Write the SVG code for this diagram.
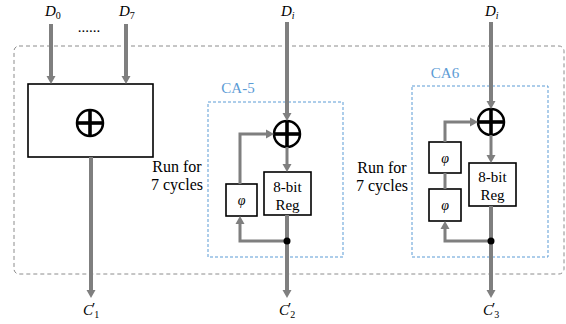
<svg xmlns="http://www.w3.org/2000/svg" width="566" height="324" viewBox="0 0 566 324">
<style>
text{font-family:"Liberation Serif",serif}
.t{fill:#000}
.it{font-style:italic}
.box{fill:#fff;stroke:#000;stroke-width:1.6}
.ca{fill:none;stroke:#5B9BD5;stroke-width:1;stroke-dasharray:3,2}
.lbl{fill:#5B9BD5;font-size:15px}
.c{fill:none;stroke:#7f7f7f;stroke-width:4}
.c3{fill:none;stroke:#7f7f7f;stroke-width:3}
.xc{fill:#fff;stroke:#000;stroke-width:2.5}
.xl{stroke:#000;stroke-width:3.6}
</style>
<defs>
<marker id="ah" markerUnits="userSpaceOnUse" markerWidth="9" markerHeight="10" refX="0" refY="4.5" orient="auto" overflow="visible">
<path d="M0,0 L8,4.5 L0,9 Z" fill="#7f7f7f"/>
</marker>
</defs>
<rect id="outer" x="14" y="46" width="550" height="228" rx="5" fill="none" stroke="#8c8c8c" stroke-width="1" stroke-dasharray="4,3"/>

<g id="bigxor">
<rect class="box" x="28" y="84" width="125" height="73"/>
<circle class="xc" cx="90" cy="123" r="13"/>
<line class="xl" x1="77" y1="123" x2="103" y2="123"/>
<line class="xl" x1="90" y1="110" x2="90" y2="136"/>
</g>

<g id="ca5">
<rect class="ca" x="208" y="102" width="135" height="155"/>
<text class="lbl" x="238" y="93" text-anchor="middle">CA-5</text>
</g>
<g id="xor5">
<circle class="xc" cx="287" cy="134" r="13"/>
<line class="xl" x1="274" y1="134" x2="300" y2="134"/>
<line class="xl" x1="287" y1="121" x2="287" y2="147"/>
</g>
<g id="reg5">
<rect class="box" x="264" y="172" width="47" height="43"/>
<text class="t" x="287.5" y="192" font-size="15" text-anchor="middle">8-bit</text>
<text class="t" x="287.5" y="210" font-size="15" text-anchor="middle">Reg</text>
</g>
<g id="phi5">
<rect class="box" x="226" y="184" width="31" height="32"/>
<text class="t it" x="241.5" y="205" font-size="14" text-anchor="middle">φ</text>
</g>

<g id="ca6">
<rect class="ca" x="412" y="86" width="136" height="171"/>
<text class="lbl" x="445" y="78" text-anchor="middle">CA6</text>
</g>
<g id="xor6">
<circle class="xc" cx="491" cy="122" r="13"/>
<line class="xl" x1="478" y1="122" x2="504" y2="122"/>
<line class="xl" x1="491" y1="109" x2="491" y2="135"/>
</g>
<g id="reg6">
<rect class="box" x="469" y="163" width="47" height="43"/>
<text class="t" x="492.5" y="182" font-size="15" text-anchor="middle">8-bit</text>
<text class="t" x="492.5" y="200" font-size="15" text-anchor="middle">Reg</text>
</g>
<g id="phi6a">
<rect class="box" x="429" y="142" width="32" height="31"/>
<text class="t it" x="445" y="163" font-size="14" text-anchor="middle">φ</text>
</g>
<g id="phi6b">
<rect class="box" x="429" y="189" width="32" height="32"/>
<text class="t it" x="445" y="210" font-size="14" text-anchor="middle">φ</text>
</g>

<g id="connectors">
<line class="c" x1="51" y1="24" x2="51" y2="76" marker-end="url(#ah)"/>
<line class="c" x1="126" y1="24" x2="126" y2="76" marker-end="url(#ah)"/>
<line class="c" x1="91" y1="157" x2="91" y2="290" marker-end="url(#ah)"/>

<line class="c" x1="287" y1="22" x2="287" y2="113" marker-end="url(#ah)"/>
<line class="c3" x1="287" y1="147" x2="287" y2="164" marker-end="url(#ah)"/>
<line class="c" x1="287" y1="215" x2="287" y2="290" marker-end="url(#ah)"/>
<polyline class="c3" points="287,241 240,241 240,224" marker-end="url(#ah)"/>
<polyline class="c3" points="240,184 240,134 266,134" marker-end="url(#ah)"/>
<circle cx="287" cy="241" r="3.5" fill="#000"/>

<line class="c" x1="491" y1="22" x2="491" y2="101" marker-end="url(#ah)"/>
<line class="c3" x1="491" y1="135" x2="491" y2="155" marker-end="url(#ah)"/>
<line class="c" x1="491" y1="206" x2="491" y2="290" marker-end="url(#ah)"/>
<polyline class="c3" points="491,241 445,241 445,229" marker-end="url(#ah)"/>
<line class="c3" x1="445" y1="173" x2="445" y2="189"/>
<polyline class="c3" points="445,142 445,122 470,122" marker-end="url(#ah)"/>
<circle cx="491" cy="241" r="3.5" fill="#000"/>
</g>

<g id="labels">
<text class="t it" x="45" y="16" font-size="15">D<tspan font-size="10" dy="3" font-style="normal">0</tspan></text>
<text class="t it" x="119" y="16" font-size="15">D<tspan font-size="10" dy="3" font-style="normal">7</tspan></text>
<text class="t" x="89" y="32" font-size="15" text-anchor="middle">......</text>
<text class="t it" x="281" y="16" font-size="15">D<tspan font-size="10" dy="3">i</tspan></text>
<text class="t it" x="485" y="16" font-size="15">D<tspan font-size="10" dy="3">i</tspan></text>
<text class="t" x="177" y="172" font-size="16" text-anchor="middle">Run for</text>
<text class="t" x="177" y="190" font-size="16" text-anchor="middle">7 cycles</text>
<text class="t" x="382" y="173" font-size="16" text-anchor="middle">Run for</text>
<text class="t" x="382" y="191" font-size="16" text-anchor="middle">7 cycles</text>
<text class="t it" x="83" y="315" font-size="15">C<tspan font-style="normal" dx="-1" dy="-2">′</tspan><tspan font-size="10" font-style="normal" dx="-1" dy="5">1</tspan></text>
<text class="t it" x="279" y="315" font-size="15">C<tspan font-style="normal" dx="-1" dy="-2">′</tspan><tspan font-size="10" font-style="normal" dx="-1" dy="5">2</tspan></text>
<text class="t it" x="483" y="315" font-size="15">C<tspan font-style="normal" dx="-1" dy="-2">′</tspan><tspan font-size="10" font-style="normal" dx="-1" dy="5">3</tspan></text>
</g>
</svg>
